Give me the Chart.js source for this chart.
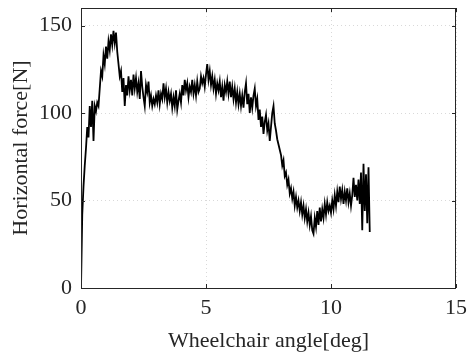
<!DOCTYPE html>
<html>
<head>
<meta charset="utf-8">
<script src="https://cdn.jsdelivr.net/npm/chart.js@4/dist/chart.umd.min.js"></script>
<style>
  html, body { margin: 0; padding: 0; background: #fff; }
  #wrap { width: 467px; height: 356px; }
</style>
</head>
<body>
<div id="wrap"><canvas id="forceChart"></canvas></div>
<script>
// -------- Data --------
const angle = [
  0.00,0.05,0.10,0.15,0.20,0.25,0.30,0.35,0.40,0.45,0.50,0.55,0.60,0.65,0.70,0.75,0.80,0.85,0.90,0.95,
  1.00,1.05,1.10,1.15,1.20,1.25,1.30,1.35,1.40,1.45,1.50,1.55,1.60,1.65,1.70,1.75,1.80,1.85,1.90,1.95,
  2.00,2.05,2.10,2.15,2.20,2.25,2.30,2.35,2.40,2.45,2.50,2.55,2.60,2.65,2.70,2.75,2.80,2.85,2.90,2.95,
  3.00,3.05,3.10,3.15,3.20,3.25,3.30,3.35,3.40,3.45,3.50,3.55,3.60,3.65,3.70,3.75,3.80,3.85,3.90,3.95,
  4.00,4.05,4.10,4.15,4.20,4.25,4.30,4.35,4.40,4.45,4.50,4.55,4.60,4.65,4.70,4.75,4.80,4.85,4.90,4.95,
  5.00,5.05,5.10,5.15,5.20,5.25,5.30,5.35,5.40,5.45,5.50,5.55,5.60,5.65,5.70,5.75,5.80,5.85,5.90,5.95,
  6.00,6.05,6.10,6.15,6.20,6.25,6.30,6.35,6.40,6.45,6.50,6.55,6.60,6.65,6.70,6.75,6.80,6.85,6.90,6.95,
  7.00,7.05,7.10,7.15,7.20,7.25,7.30,7.35,7.40,7.45,7.50,7.55,7.60,7.65,7.70,7.75,7.80,7.85,7.90,7.95,
  8.00,8.05,8.10,8.15,8.20,8.25,8.30,8.35,8.40,8.45,8.50,8.55,8.60,8.65,8.70,8.75,8.80,8.85,8.90,8.95,
  9.00,9.05,9.10,9.15,9.20,9.25,9.30,9.35,9.40,9.45,9.50,9.55,9.60,9.65,9.70,9.75,9.80,9.85,9.90,9.95,
  10.00,10.05,10.10,10.15,10.20,10.25,10.30,10.35,10.40,10.45,10.50,10.55,10.60,10.65,10.70,10.75,10.80,10.85,10.90,10.95,
  11.00,11.05,11.10,11.15,11.20,11.25,11.30,11.35,11.40,11.45,11.50,11.55
];
const force = [
  0,42,58,70,80,92,86,104,92,107,84,104,101,106,104,114,124,121,133,128,
  138,131,141,136,145,139,147,140,146,135,128,121,124,112,120,104,116,110,121,113,
  119,110,122,114,120,112,117,108,124,115,109,104,116,112,118,106,110,104,108,105,
  110,106,113,105,111,108,117,109,114,106,112,107,111,103,109,104,113,102,107,111,
  106,116,110,119,113,117,109,115,112,119,111,116,110,118,112,114,121,117,120,115,
  122,128,119,124,116,121,114,119,111,117,113,118,109,115,107,116,112,118,111,118,
  109,115,108,114,106,112,105,111,104,110,103,112,117,105,111,100,109,103,110,114,
  104,108,96,102,92,98,88,95,99,90,94,84,92,100,104,94,90,85,82,79,
  76,70,73,64,66,59,62,54,57,51,55,47,52,46,50,44,49,42,47,40,
  45,38,43,36,41,33,31,40,35,44,36,46,38,45,40,48,42,49,44,47,
  43,50,45,53,47,55,49,58,51,56,48,55,50,57,49,54,47,53,63,52,
  59,50,62,48,66,33,71,44,65,37,69,32
];
const xTicks = [0, 5, 10, 15];
const yTicks = [0, 50, 100, 150];

// -------- Box + inward ticks (MATLAB look) --------
const boxPlugin = {
  id: "box",
  afterDraw(chart) {
    const {ctx, chartArea: a, scales: {x, y}} = chart;
    ctx.save();
    ctx.strokeStyle = "#262626";
    ctx.lineWidth = 1;
    ctx.strokeRect(a.left + 0.5, a.top + 0.5, a.right - a.left - 1, a.bottom - a.top);
    const len = 4;
    ctx.beginPath();
    xTicks.forEach(v => {
      const px = Math.round(x.getPixelForValue(v)) + 0.5;
      ctx.moveTo(px, a.bottom); ctx.lineTo(px, a.bottom - len);
      ctx.moveTo(px, a.top); ctx.lineTo(px, a.top + len);
    });
    yTicks.forEach(v => {
      const py = Math.round(y.getPixelForValue(v)) + 0.5;
      ctx.moveTo(a.left, py); ctx.lineTo(a.left + len, py);
      ctx.moveTo(a.right, py); ctx.lineTo(a.right - len, py);
    });
    ctx.stroke();
    ctx.restore();
  }
};

const serif = "'Liberation Serif', 'Times New Roman', serif";
const txt = "#262626";

new Chart(document.getElementById("forceChart"), {
  type: "line",
  data: {
    datasets: [{
      data: angle.map((a, i) => ({x: a, y: force[i]})),
      borderColor: "#000",
      borderWidth: 1.8,
      pointRadius: 0,
      tension: 0,
      fill: false
    }]
  },
  options: {
    responsive: true,
    maintainAspectRatio: false,
    animation: false,
    layout: {padding: {top: 8, right: 11, left: 0, bottom: 0}},
    plugins: {legend: {display: false}, tooltip: {enabled: false}},
    scales: {
      x: {
        type: "linear", min: 0, max: 15,
        afterBuildTicks: s => { s.ticks = xTicks.map(v => ({value: v})); },
        afterFit: s => { s.height = 68; s.paddingLeft = 0; s.paddingRight = 0; },
        grid: {color: "#d9d9d9", drawTicks: false},
        border: {display: false, dash: [1, 3]},
        ticks: {padding: 7, color: txt, font: {family: serif, size: 22}, maxRotation: 0},
        title: {display: true, text: "Wheelchair angle[deg]", color: txt,
                font: {family: serif, size: 22}, padding: {top: 0, bottom: 2}}
      },
      y: {
        type: "linear", min: 0, max: 160,
        afterBuildTicks: s => { s.ticks = yTicks.map(v => ({value: v})); },
        afterFit: s => { s.width = 81; s.paddingTop = 0; s.paddingBottom = 0; },
        grid: {color: "#d9d9d9", drawTicks: false},
        border: {display: false, dash: [1, 3]},
        ticks: {padding: 9, color: txt, font: {family: serif, size: 22}},
        title: {display: true, text: "Horizontal force[N]", color: txt,
                font: {family: serif, size: 22}, padding: {top: 8, bottom: 0}}
      }
    }
  },
  plugins: [boxPlugin]
});
</script>
</body>
</html>
